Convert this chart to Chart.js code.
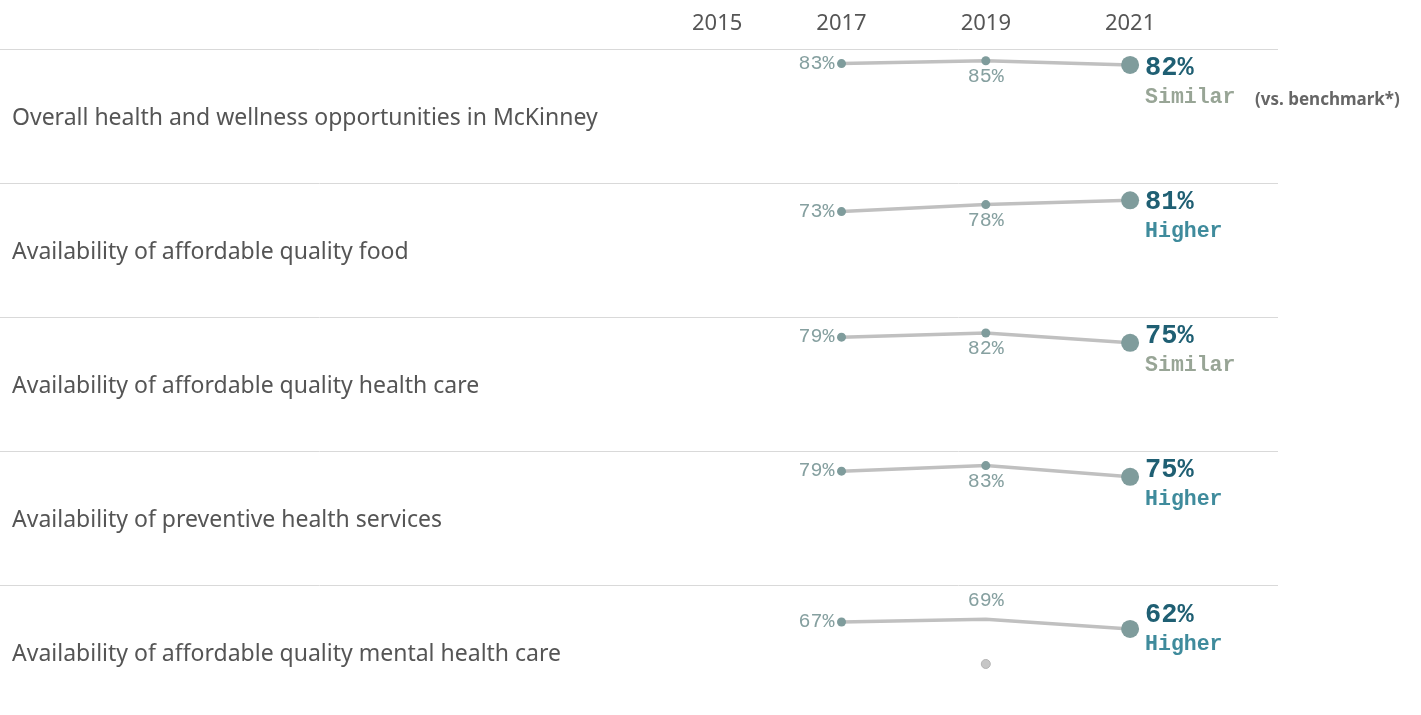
<!DOCTYPE html>
<html lang="en">
<head>
<meta charset="UTF-8">
<title>Health and wellness ratings</title>
<style>
  html, body { margin: 0; padding: 0; background: #fff; overflow: hidden; }
  #wrap { width: 1421px; height: 728px; }
</style>
</head>
<body>
<div id="wrap"><canvas id="trendChart" width="1421" height="728"></canvas></div>

<script src="https://cdn.jsdelivr.net/npm/chart.js@4.4.1/dist/chart.umd.min.js"></script>
<script>
    // survey years and the header ticks
    var years = [2017, 2019, 2021];
    var yearTicks = [2015, 2017, 2019, 2021];

    var rowLabels = [
        'Overall health and wellness opportunities in McKinney',
        'Availability of affordable quality food',
        'Availability of affordable quality health care',
        'Availability of preventive health services',
        'Availability of affordable quality mental health care'
    ];

    // percent rating "excellent" or "good"
    var values2017 = [83, 73, 79, 79, 67];
    var values2019 = [85, 78, 82, 83, 69];
    var values2021 = [82, 81, 75, 75, 62];

    // 2021 compared with the benchmark
    var comparison = ['Similar', 'Higher', 'Similar', 'Higher', 'Higher'];

    // loose 2019 mark that sits off the line in the last row
    var stray2019 = [null, null, null, null, 37];

    var dotColor = '#7f9c9c';
    var lineColor = '#c0c0c0';
    var labelColor = '#86a0a0';
    var valueColor = '#1f5f73';
    var compareColors = { Similar: '#98a596', Higher: '#3f8b9c' };
    var sansFont = '"Noto Sans", "Open Sans", sans-serif';
    var monoFont = '"Liberation Mono", "Courier New", monospace';

    var datasets = [];
    var scales = {
        x: { type: 'linear', min: 2014.9, max: 2023.05, display: false }
    };

    // stacked y scales are laid out bottom-up, so add the last row first
    for (var k = rowLabels.length - 1; k >= 0; k--) {
        scales['y' + k] = {
            type: 'linear',
            min: -2.3,
            max: 93.4,
            display: false,
            position: 'left',
            stack: 'rows',
            stackWeight: 1
        };
    }

    rowLabels.forEach(function(label, r) {
        var axisId = 'y' + r;
        var vals = [values2017[r], values2019[r], values2021[r]];
        datasets.push({
            label: label,
            row: r,
            data: years.map(function(y, i) { return { x: y, y: vals[i] }; }),
            xAxisID: 'x',
            yAxisID: axisId,
            borderColor: lineColor,
            borderWidth: 3.5,
            tension: 0,
            pointBackgroundColor: dotColor,
            pointBorderWidth: 0,
            pointRadius: function(ctx) {
                if (ctx.dataIndex === 2) return 9;
                if (ctx.dataIndex === 1 && stray2019[r] !== null) return 0;
                return 4.5;
            },
            pointHoverRadius: 0
        });

        if (stray2019[r] !== null) {
            datasets.push({
                label: 'stray',
                stray: true,
                data: [{ x: 2019, y: stray2019[r] }],
                xAxisID: 'x',
                yAxisID: axisId,
                showLine: false,
                pointRadius: 4.5,
                pointBackgroundColor: '#c6c6c6',
                pointBorderColor: '#b4b4b4',
                pointBorderWidth: 1
            });
        }
    });

    var rowDecor = {
        id: 'rowDecor',
        beforeDatasetsDraw: function(chart) {
            var ctx = chart.ctx;
            var area = chart.chartArea;
            ctx.save();
            ctx.strokeStyle = '#d9d9d9';
            ctx.lineWidth = 1;
            rowLabels.forEach(function(label, r) {
                var ys = chart.scales['y' + r];
                var y = Math.round(ys.top) + 0.5;
                ctx.beginPath();
                ctx.moveTo(0, y);
                ctx.lineTo(area.right, y);
                ctx.stroke();

                ctx.fillStyle = '#555555';
                ctx.font = '23px ' + sansFont;
                ctx.textAlign = 'left';
                ctx.textBaseline = 'middle';
                ctx.fillText(label, 12, (ys.top + ys.bottom) / 2 + 2);
            });

            // year header, the first tick kept inside the pane
            var xs = chart.scales.x;
            ctx.font = '22px ' + sansFont;
            ctx.fillStyle = '#555555';
            ctx.textAlign = 'left';
            yearTicks.forEach(function(t) {
                var px = xs.getPixelForValue(t);
                var w = ctx.measureText(String(t)).width;
                var left = Math.max(px - w / 2, area.left + 2);
                ctx.fillText(String(t), left, 24);
            });
            ctx.restore();
        },
        afterDatasetsDraw: function(chart) {
            var ctx = chart.ctx;
            ctx.save();
            chart.data.datasets.forEach(function(ds, di) {
                if (ds.stray) return;
                var r = ds.row;
                var pts = chart.getDatasetMeta(di).data;
                var top = chart.scales['y' + r].top;

                // 2017: left of the dot
                ctx.font = '20px ' + monoFont;
                ctx.fillStyle = labelColor;
                ctx.textBaseline = 'middle';
                ctx.textAlign = 'right';
                ctx.fillText(values2017[r] + '%', pts[0].x - 7, pts[0].y);

                // 2019: under the dot, above it when a loose mark sits below
                ctx.textAlign = 'center';
                var dy = stray2019[r] !== null ? -18 : 16;
                ctx.fillText(values2019[r] + '%', pts[1].x, pts[1].y + dy);

                // 2021: value and benchmark comparison
                var vy = Math.max(top + 19, pts[2].y - 14);
                ctx.textAlign = 'left';
                ctx.font = 'bold 27px ' + monoFont;
                ctx.fillStyle = valueColor;
                ctx.fillText(values2021[r] + '%', pts[2].x + 15, vy);

                ctx.font = 'bold 21.5px ' + monoFont;
                ctx.fillStyle = compareColors[comparison[r]];
                ctx.fillText(comparison[r], pts[2].x + 15, vy + 30);

                if (r === 0) {
                    ctx.font = 'bold 17px ' + sansFont;
                    ctx.fillStyle = '#666666';
                    ctx.fillText('(vs. benchmark*)', 1255, vy + 32);
                }
            });
            ctx.restore();
        }
    };

    new Chart(document.getElementById('trendChart'), {
        type: 'line',
        data: { datasets: datasets },
        options: {
            responsive: false,
            animation: false,
            layout: { padding: { left: 690, right: 143, top: 49, bottom: 0 } },
            scales: scales,
            plugins: {
                legend: { display: false },
                tooltip: { enabled: false }
            }
        },
        plugins: [rowDecor]
    });
</script>
</body>
</html>
